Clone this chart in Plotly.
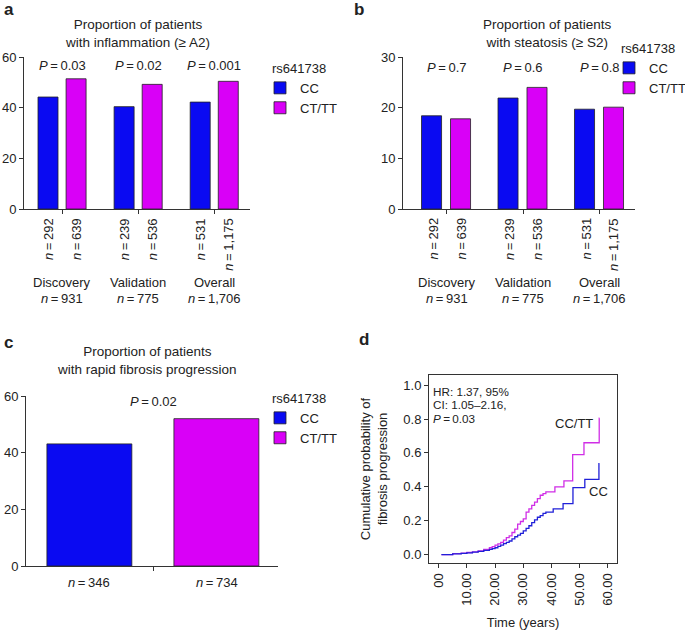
import plotly.graph_objects as go

W, H = 685, 632
FONT = "Liberation Sans, Arial, sans-serif"
BLUE = "#0a0af2"
MAG = "#d900f7"
LBLUE = "#2020d8"
LMAG = "#d02ee6"
FS = 13

# ---------------- data ----------------
groups = ["Discovery", "Validation", "Overall"]
group_n = ["931", "775", "1,706"]
cc_n = ["292", "239", "531"]
ct_n = ["639", "536", "1,175"]

inflam_cc = [44.2, 40.4, 42.2]
inflam_ct = [51.4, 49.2, 50.4]
inflam_p = ["0.03", "0.02", "0.001"]

steat_cc = [18.4, 21.9, 19.7]
steat_ct = [17.8, 24.0, 20.1]
steat_p = ["0.7", "0.6", "0.8"]

rapid_cat = ["rapid"]
rapid_cc = [43.1]
rapid_ct = [52.0]
rapid_n = ["346", "734"]
rapid_p = "0.02"

km_cc_time = [1, 5, 8, 10, 12, 14, 16, 18, 19, 20, 21, 22, 23, 24, 25, 26, 27, 28, 29, 30,
              31, 32, 33, 34, 35, 36, 37, 38, 40.6, 44.1, 47.6, 51.8, 56.8, 57.0]
km_cc_prob = [0, 0.004, 0.007, 0.010, 0.014, 0.019, 0.025, 0.031, 0.035, 0.040, 0.048, 0.056,
              0.064, 0.072, 0.080, 0.092, 0.105, 0.115, 0.125, 0.140, 0.155, 0.170, 0.188,
              0.205, 0.220, 0.230, 0.243, 0.250, 0.270, 0.300, 0.395, 0.444, 0.537, 0.537]
km_ct_time = [1, 5, 8, 10, 12, 14, 16, 18, 19, 20, 21, 22, 23, 24, 25, 26, 27, 28, 29, 30,
              31, 32, 33, 34, 35, 36, 37, 38, 41.2, 44.4, 47.5, 51.5, 56.9, 57.0]
km_ct_prob = [0, 0.005, 0.008, 0.012, 0.016, 0.022, 0.030, 0.040, 0.047, 0.055, 0.063, 0.072,
              0.085, 0.100, 0.110, 0.130, 0.150, 0.180, 0.195, 0.210, 0.250, 0.270, 0.290,
              0.310, 0.330, 0.350, 0.360, 0.370, 0.400, 0.435, 0.590, 0.660, 0.805, 0.805]
km_xticks = [0, 10, 20, 30, 40, 50, 60]
km_xticktext = ["00", "10.00", "20.00", "30.00", "40.00", "50.00", "60.00"]
km_yticks = [0, 0.2, 0.4, 0.6, 0.8, 1.0]
km_stats = ["HR: 1.37, 95%", "CI: 1.05\u20132.16,", "<i>P</i>\u2009=\u20090.03"]


def px(x):
    return x / W


def py(y):
    return 1 - y / H


fig = go.Figure()
ann = []


def add_bars(cats, cc, ct, xa, ya, legend, width, off_cc, off_ct):
    fig.add_trace(go.Bar(x=cats, y=cc, name="CC", marker=dict(color=BLUE, line=dict(color="#222", width=0.8)),
                         width=width, offset=off_cc, xaxis=xa, yaxis=ya, legend=legend))
    fig.add_trace(go.Bar(x=cats, y=ct, name="CT/TT", marker=dict(color=MAG, line=dict(color="#222", width=0.8)),
                         width=width, offset=off_ct, xaxis=xa, yaxis=ya, legend=legend))


add_bars(groups, inflam_cc, inflam_ct, "x", "y", "legend", 0.263, -0.316, 0.053)
add_bars(groups, steat_cc, steat_ct, "x2", "y2", "legend2", 0.262, -0.327, 0.052)
add_bars(rapid_cat, rapid_cc, rapid_ct, "x3", "y3", "legend3", 0.337, -0.421, 0.083)

fig.add_trace(go.Scatter(x=km_ct_time, y=km_ct_prob, mode="lines", line=dict(color=LMAG, width=1.3, shape="hv"),
                         xaxis="x4", yaxis="y4", showlegend=False))
fig.add_trace(go.Scatter(x=km_cc_time, y=km_cc_prob, mode="lines", line=dict(color=LBLUE, width=1.3, shape="hv"),
                         xaxis="x4", yaxis="y4", showlegend=False))

axcommon = dict(showgrid=False, zeroline=False, showline=True, linecolor="#333", linewidth=1, automargin=False,
                ticks="outside", ticklen=4, tickcolor="#333", tickfont=dict(size=FS, color="#222"))

leg = dict(xanchor="left", yanchor="top", font=dict(size=FS), itemwidth=30, bgcolor="rgba(0,0,0,0)",
           tracegroupgap=0, indentation=-10)
legtitle = dict(text="rs641738", font=dict(size=FS))

fig.update_layout(
    width=W, height=H, autosize=False, margin=dict(l=0, r=0, t=0, b=0, autoexpand=False),
    paper_bgcolor="white", plot_bgcolor="white", barmode="overlay",
    font=dict(family=FONT, size=FS, color="#222"),
    xaxis=dict(domain=[px(24), px(250)], range=[-0.5, 2.47], anchor="y", showticklabels=False, **axcommon),
    yaxis=dict(domain=[py(209), py(57)], range=[0, 60], anchor="x", tickvals=[0, 20, 40, 60], **axcommon),
    xaxis2=dict(domain=[px(403), px(635)], range=[-0.569, 2.464], anchor="y2", showticklabels=False, **axcommon),
    yaxis2=dict(domain=[py(209), py(57)], range=[0, 30], anchor="x2", tickvals=[0, 10, 20, 30], **axcommon),
    xaxis3=dict(domain=[px(26), px(278)], range=[-0.504, 0.496], anchor="y3", showticklabels=False, **axcommon),
    yaxis3=dict(domain=[py(566), py(396)], range=[0, 60], anchor="x3", tickvals=[0, 20, 40, 60], **axcommon),
    xaxis4=dict(domain=[px(429), px(617)], range=[-3.4, 63.2], anchor="y4", tickvals=km_xticks,
                ticktext=km_xticktext, tickangle=-90, mirror=True,
                title=dict(text="Time (years)", font=dict(size=FS), standoff=13), **axcommon),
    yaxis4=dict(domain=[py(563), py(375)], range=[-0.05, 1.06], anchor="x4", tickvals=km_yticks,
                tickformat=".1f", mirror=True,
                title=dict(text="Cumulative probability of<br>fibrosis progression", font=dict(size=FS),
                           standoff=12),
                **axcommon),
    legend=dict(x=px(270), y=py(56), title=legtitle, **leg),
    legend2=dict(x=px(619), y=py(36), title=legtitle, **leg),
    legend3=dict(x=px(270), y=py(386), title=legtitle, **leg),
)


def text(x, y, t, size=FS, xanchor="center", yanchor="middle", **kw):
    ann.append(dict(x=px(x), y=py(y), xref="paper", yref="paper", text=t, showarrow=False,
                    font=dict(size=size, family=FONT, color="#222"), xanchor=xanchor, yanchor=yanchor, **kw))


# panel letters
text(2, 10, "<b>a</b>", size=17, xanchor="left")
text(352, 10, "<b>b</b>", size=17, xanchor="left")
text(2, 342, "<b>c</b>", size=17, xanchor="left")
text(357, 339, "<b>d</b>", size=17, xanchor="left")

# titles
text(137, 33, "Proportion of patients<br>with inflammation (\u2265 A2)", size=13.5)
text(547, 33, "Proportion of patients<br>with steatosis (\u2265 S2)", size=13.5)
text(147, 360.5, "Proportion of patients<br>with rapid fibrosis progression", size=13.5)


def lab(xa, g, y, t, **kw):
    ann.append(dict(x=g, y=py(y), xref=xa, yref="paper", text=t, showarrow=False,
                    font=dict(size=FS, family=FONT, color="#222"), **kw))


def bar_labels(xa, pvals, ptop):
    for i, g in enumerate(groups):
        lab(xa, g, ptop, "<i>P</i>\u2009=\u2009" + pvals[i], yanchor="middle")
        for nlab, shift in ((cc_n[i], -14), (ct_n[i], 14)):
            lab(xa, g, 216, "<i>n</i>\u2009=\u2009" + nlab, textangle=-90, xshift=shift,
                xanchor="center", yanchor="top")
        lab(xa, g, 283, g, yanchor="middle")
        lab(xa, g, 298, "<i>n</i>\u2009=\u2009" + group_n[i], yanchor="middle")


bar_labels("x", inflam_p, 65)
bar_labels("x2", steat_p, 67.5)

# panel c labels
lab("x3", "rapid", 401, "<i>P</i>\u2009=\u2009" + rapid_p, yanchor="middle")
for nlab, shift in ((rapid_n[0], -64), (rapid_n[1], 64)):
    lab("x3", "rapid", 582, "<i>n</i>\u2009=\u2009" + nlab, xshift=shift, yanchor="middle")

# panel d labels
for k, (t, yy) in enumerate(zip(km_stats, [391, 404.5, 418])):
    text(431, yy, t, size=11.7, xanchor="left")
text(595, 423, "CC/TT", size=FS, xanchor="right")
text(587, 491, "CC", size=FS, xanchor="left")

fig.update_layout(annotations=ann)
fig.write_html("out.html", post_script="document.body.style.margin='0px';",
               config={"displayModeBar": False})
